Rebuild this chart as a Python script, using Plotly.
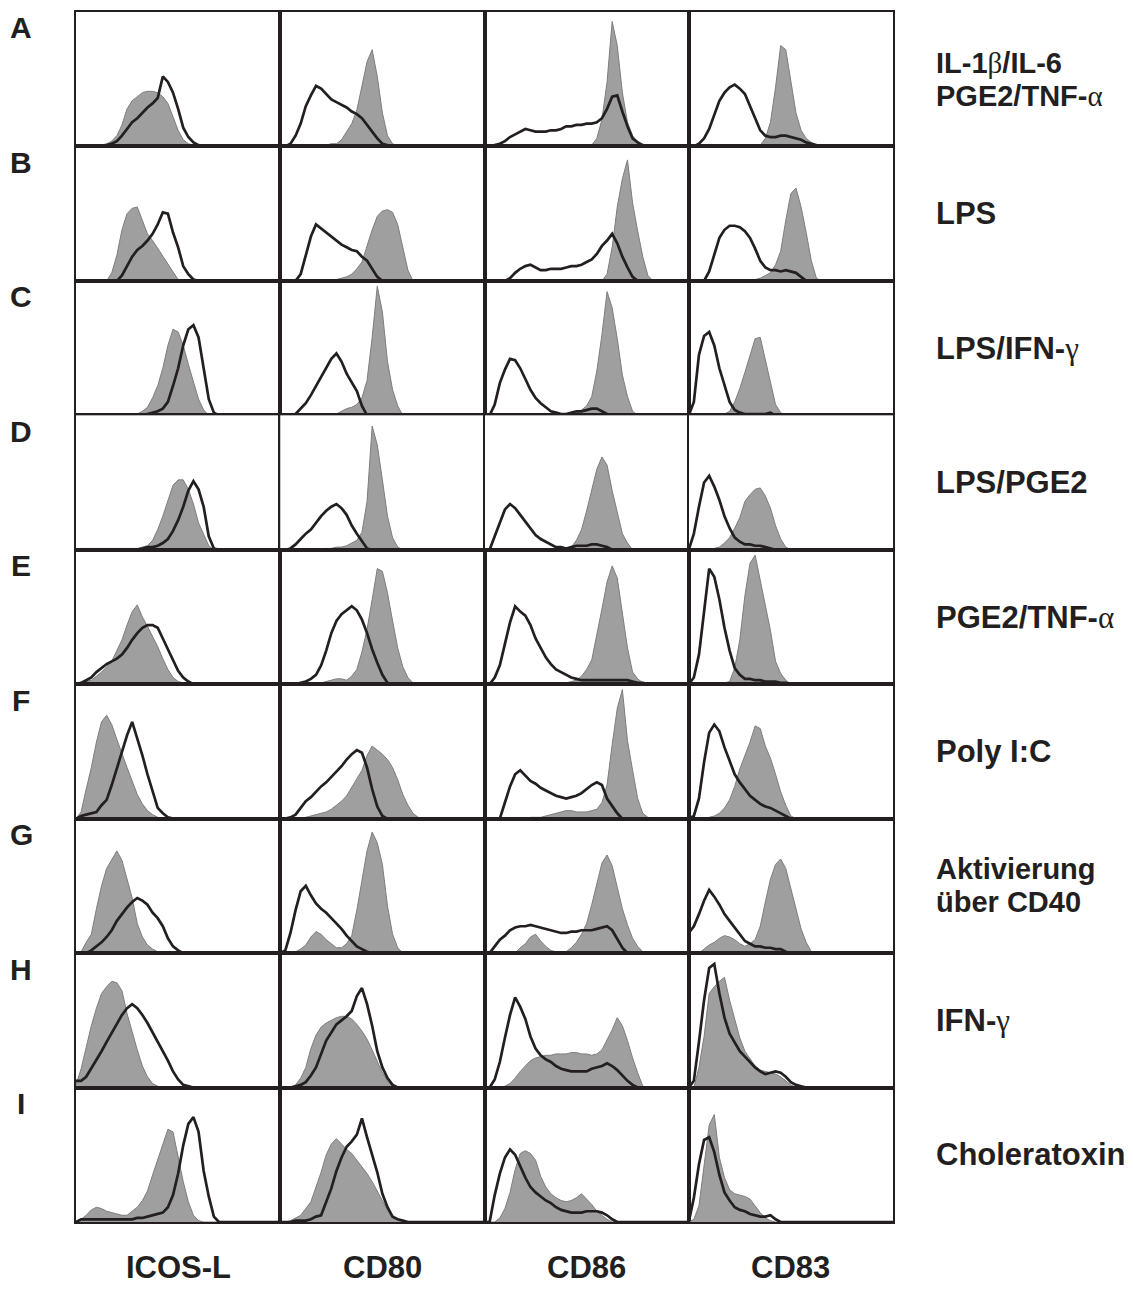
import plotly.graph_objects as go
from plotly.subplots import make_subplots

# ---------------- data (percent of max event count, per fluorescence channel) ----------------
CHANNELS = [0, 2.5, 5, 7.5, 10, 12.5, 15, 17.5, 20, 22.5, 25, 27.5, 30, 32.5, 35, 37.5, 40,
            42.5, 45, 47.5, 50, 52.5, 55, 57.5, 60, 62.5, 65, 67.5, 70, 72.5, 75, 77.5, 80,
            82.5, 85, 87.5, 90, 92.5, 95, 97.5, 100]

ROW_LETTERS = ["A", "B", "C", "D", "E", "F", "G", "H", "I"]
CONDITIONS = [["IL-1β/IL-6", "PGE2/TNF-α"], ["LPS"], ["LPS/IFN-γ"], ["LPS/PGE2"], ["PGE2/TNF-α"],
              ["Poly I:C"], ["Aktivierung", "über CD40"], ["IFN-γ"], ["Choleratoxin"]]
MARKERS = ["ICOS-L", "CD80", "CD86", "CD83"]

# shaded histograms (fill) and open histograms (line); trailing channels are zero
A1_fill = [0,0,0,0,1,1,2,4,8,16, 28,34,37,40,41,41,40,37,32,22, 12,5,2,1]
A1_line = [0,0,0,0,0,0,1,2,4,8, 13,18,21,25,29,32,36,52,48,40, 28,14,7,3,1]
A2_fill = [0,0,0,0,0,0,0,0,1,1, 2,2,5,11,17,27,44,63,72,52, 25,8,2]
A2_line = [0,0,2,8,17,30,38,45,43,39, 35,33,31,29,26,24,21,16,11,6, 2,1]
A3_fill = [0,0,1,1,1,1,1,1,1,1, 1,1,1,1,1,1,1,1,1,1, 1,1,6,20,48,93,75,40,18,8, 3,1]
A3_line = [0,0,1,2,4,7,9,11,13,12, 11,11,11,12,12,13,15,15,16,16, 17,17,18,21,28,37,38,26,15,6, 3,1]
A4_fill = [0,0,0,1,1,1,1,1,1,1, 1,1,1,1,1,6,18,44,75,72, 50,25,12,6,3,1]
A4_line = [0,0,2,6,13,23,34,40,44,46, 43,39,30,20,12,8,7,7,8,8, 7,6,5,3,2,1]

B1_fill = [0,0,0,0,0,0,0,6,19,38, 50,54,55,45,35,30,24,18,12,6, 1]
B1_line = [0,0,0,0,0,0,0,0,0,4, 11,18,23,26,30,35,42,51,50,36, 25,11,5,1]
B2_fill = [0,0,0,0,0,0,0,0,0,0, 0,1,2,3,5,9,14,27,38,48, 52,53,51,42,26,8]
B2_line = [0,0,0,0,5,18,33,42,39,36, 33,30,27,25,23,22,18,15,9,3]
B3_fill = [0,0,0,0,0,0,0,0,0,0, 0,0,0,0,0,0,0,0,0,0, 0,0,0,0,5,25,55,76,90,58, 37,18,4]
B3_line = [0,0,0,0,0,2,6,9,11,12, 10,8,8,9,9,9,10,11,11,12, 14,16,20,26,30,35,28,18,10,3]
B4_fill = [0,0,0,0,0,0,0,0,0,0, 0,0,0,1,2,4,6,12,22,45, 65,69,55,36,15,2]
B4_line = [0,0,0,0,7,19,32,38,41,41, 40,37,32,24,15,10,8,8,7,8, 7,6,3]

C1_fill = [0,0,0,0,0,0,0,0,0,0, 0,0,1,3,6,13,22,35,52,64, 62,52,38,24,12,4]
C1_line = [0,0,0,0,0,0,0,0,0,0, 0,0,0,0,1,2,3,5,10,22, 35,52,64,67,58,35,12,2]
C2_fill = [0,0,0,0,0,0,0,0,0,0, 0,1,3,5,6,8,13,26,58,96, 77,40,19,7]
C2_line = [0,0,0,1,5,9,15,22,29,35, 42,46,40,31,25,18,7]
C3_fill = [0,0,0,0,0,0,0,0,0,0, 0,0,0,0,0,0,0,1,2,4, 7,14,33,60,92,80,57,30,14,3]
C3_line = [0,0,8,24,34,42,41,35,27,19, 13,9,6,3,2,1,1,2,3,3, 4,5,5,3,1]
C4_fill = [0,0,0,0,0,0,0,1,3,10, 20,32,45,57,58,42,25,8,2]
C4_line = [0,10,45,59,62,52,35,22,10,4, 2,1,1,1,1,1,2]

D1_fill = [0,1,1,1,1,1,1,1,1,1, 1,1,1,2,3,7,15,25,37,48, 52,52,45,34,20,11,3]
D1_line = [0,0,0,0,0,0,0,0,0,0, 0,0,0,1,2,2,3,5,8,14, 22,32,44,51,45,32,10,1]
D2_fill = [0,0,0,0,0,0,0,0,0,1, 1,2,2,3,5,7,13,36,92,78, 52,25,9,2]
D2_line = [0,0,1,4,8,12,15,20,25,29, 32,34,31,26,18,12,6,1]
D3_fill = [0,0,0,0,0,0,0,0,0,0, 0,0,0,0,0,0,1,2,7,15, 29,45,60,69,63,44,27,12,5]
D3_line = [0,0,10,20,30,34,31,26,21,16, 11,8,6,4,2,2,1,2,3,3, 3,4,4,3,2]
D4_fill = [0,0,0,0,0,1,2,5,9,16, 24,36,41,45,46,40,31,18,8,2]
D4_line = [0,12,32,50,55,47,37,25,16,9, 6,4,4,3,3,2,1]

E1_fill = [0,1,2,3,6,9,13,17,25,33, 44,54,59,50,43,36,28,19,11,5, 2,1]
E1_line = [0,1,3,5,9,12,15,17,19,22, 27,33,38,42,44,44,42,34,26,18, 10,5,2]
E2_fill = [0,0,0,0,0,0,0,0,1,2, 3,4,4,3,6,11,24,41,63,86, 84,68,47,27,13,5,1]
E2_line = [0,0,0,0,1,2,4,7,14,25, 38,47,52,55,58,55,48,38,26,16, 7,1]
E3_fill = [0,0,0,0,0,0,0,0,0,0, 1,1,1,1,1,1,1,2,3,6, 11,18,36,56,76,88,79,53,27,9, 4,1]
E3_line = [0,0,5,14,30,46,58,54,51,44, 34,27,20,15,11,9,7,5,4,3, 3,3,3,3,3,3,3,3,3,2, 1,1]
E4_fill = [0,0,0,0,0,0,0,1,2,12, 33,66,90,96,78,58,40,17,8,3]
E4_line = [0,5,22,55,86,80,63,42,25,12, 7,4,4,3,3,2,2,2,1,1]

F1_fill = [0,5,22,38,57,72,77,70,59,48, 38,28,18,11,6,3,1]
F1_line = [0,2,3,4,5,10,14,25,38,50, 62,72,60,47,33,20,8,4,1]
F2_fill = [0,0,0,0,0,1,2,3,4,5, 7,10,13,17,23,29,36,47,54,51, 48,44,38,29,18,10,4,1]
F2_line = [0,0,1,3,8,13,16,20,24,27, 31,35,39,44,48,51,49,38,22,9, 2]
F3_fill = [0,0,0,0,0,0,0,0,0,1, 1,1,2,3,4,5,6,6,5,5, 5,6,7,12,25,55,82,96,58,36, 15,4,1]
F3_line = [0,0,0,0,12,24,33,36,32,28, 26,23,21,19,17,16,15,16,17,19, 22,25,27,25,15,9,4]
F4_fill = [0,0,0,0,1,2,4,8,14,24, 37,47,57,69,67,54,45,33,20,10, 2]
F4_line = [0,2,15,42,64,70,65,53,43,33, 27,22,17,14,11,9,8,6,4,2]

G1_fill = [0,1,8,14,33,50,63,70,76,69, 55,41,22,12,6,3,1]
G1_line = [0,0,0,2,5,8,12,17,24,29, 34,38,41,39,36,30,26,20,11,5, 2]
G2_fill = [0,0,0,1,3,6,12,16,14,10, 7,4,4,7,13,32,54,76,90,82, 66,35,14,4]
G2_line = [0,2,15,32,46,50,43,37,33,30, 26,22,18,13,9,5,3,1]
G3_fill = [0,0,0,0,0,0,0,4,7,12, 14,9,5,2,1,1,1,4,8,14, 22,36,51,67,73,65,49,33,21,11, 5,1]
G3_line = [0,0,5,10,13,17,19,20,20,21, 20,19,18,17,16,15,15,16,16,17, 17,17,18,19,20,17,11,4]
G4_fill = [0,0,0,3,6,8,11,13,12,10, 7,5,7,10,20,38,55,66,70,63, 48,31,18,8,1]
G4_line = [15,20,29,39,47,42,36,29,24,19, 14,9,7,5,5,4,4,3,3,1]

H1_fill = [2,14,30,46,59,70,75,79,78,72, 55,41,28,16,8,3,1]
H1_line = [5,5,8,14,20,27,34,41,48,54, 59,62,59,54,48,41,35,27,20,12, 6,2,1]
H2_fill = [0,0,0,2,7,15,29,39,45,48, 50,52,53,53,51,47,42,36,28,19, 11,5,1]
H2_line = [0,0,0,1,2,4,9,15,25,35, 41,47,50,53,57,68,74,62,46,27, 15,7,2]
H3_fill = [0,0,0,0,1,3,7,12,16,20, 22,23,24,24,25,25,25,26,26,25, 25,24,25,28,35,43,52,46,35,22, 11,1]
H3_line = [0,0,6,19,37,54,67,60,51,38, 29,24,21,19,16,14,13,12,12,12, 12,14,15,16,18,16,13,9,5,2]
H4_fill = [0,0,15,38,70,75,79,82,65,50, 37,27,21,16,13,12,11,10,8,5, 2]
H4_line = [0,5,34,65,89,92,70,52,40,33, 27,23,19,15,12,10,11,12,11,8, 4,2,1]

I1_fill = [0,2,5,9,11,10,8,7,6,5, 5,8,11,16,23,35,46,57,69,67, 49,30,15,5,1]
I1_line = [0,2,2,2,2,2,2,2,2,2, 2,2,3,3,4,5,6,7,11,20, 36,57,73,78,67,38,19,4]
I2_fill = [0,0,1,3,5,10,15,26,37,50, 58,62,58,54,51,46,41,36,30,23, 15,9,4,2,1]
I2_line = [0,0,0,1,1,1,2,4,5,15, 25,38,48,56,60,65,77,63,50,37, 21,11,4,2,1]
I3_fill = [0,0,0,3,10,22,39,51,53,51, 46,34,26,21,18,16,15,16,18,21, 17,13,8,5,2]
I3_line = [0,0,20,36,48,54,50,41,33,26, 22,19,16,14,11,9,8,7,7,7, 8,8,8,7,5,2]
I4_fill = [0,2,12,43,72,80,48,33,24,21, 20,19,17,12,7,3,1]
I4_line = [0,18,43,61,63,52,35,22,16,11, 9,8,6,5,4,4,5,2]

FILLS = [[A1_fill, A2_fill, A3_fill, A4_fill], [B1_fill, B2_fill, B3_fill, B4_fill],
         [C1_fill, C2_fill, C3_fill, C4_fill], [D1_fill, D2_fill, D3_fill, D4_fill],
         [E1_fill, E2_fill, E3_fill, E4_fill], [F1_fill, F2_fill, F3_fill, F4_fill],
         [G1_fill, G2_fill, G3_fill, G4_fill], [H1_fill, H2_fill, H3_fill, H4_fill],
         [I1_fill, I2_fill, I3_fill, I4_fill]]
LINES = [[A1_line, A2_line, A3_line, A4_line], [B1_line, B2_line, B3_line, B4_line],
         [C1_line, C2_line, C3_line, C4_line], [D1_line, D2_line, D3_line, D4_line],
         [E1_line, E2_line, E3_line, E4_line], [F1_line, F2_line, F3_line, F4_line],
         [G1_line, G2_line, G3_line, G4_line], [H1_line, H2_line, H3_line, H4_line],
         [I1_line, I2_line, I3_line, I4_line]]

# ---------------- layout ----------------
OFF = 8                      # page body margin
W, H = 1125, 1286
ML, MR, MT, MB = 68, 240, 2, 72
PW, PH = W - ML - MR, H - MT - MB

INK = "#231f20"
GREY = "#9f9f9f"
GREY_EDGE = "#7d7d7d"
FONT = "Liberation Sans, Arial, sans-serif"
SERIF = "Liberation Serif, Times New Roman, serif"


def px(xr):
    return (xr - OFF - ML) / PW


def py(yr):
    return 1 - (yr - OFF - MT) / PH


def pad(vals):
    return list(vals) + [0] * (len(CHANNELS) - len(vals))


def greek(s):
    for g in "βαγ":
        s = s.replace(g, f"<span style='font-family:{SERIF};font-weight:normal'>{g}</span>")
    return s


nrows, ncols = len(ROW_LETTERS), len(MARKERS)
fig = make_subplots(rows=nrows, cols=ncols, horizontal_spacing=0, vertical_spacing=0)

for r in range(nrows):
    for c in range(ncols):
        fig.add_trace(go.Scatter(x=CHANNELS, y=pad(FILLS[r][c]), mode="lines",
                                 fill="tozeroy", fillcolor=GREY,
                                 line=dict(color=GREY_EDGE, width=1),
                                 hoverinfo="skip", showlegend=False),
                      row=r + 1, col=c + 1)
        fig.add_trace(go.Scatter(x=CHANNELS, y=pad(LINES[r][c]), mode="lines",
                                 line=dict(color=INK, width=2.7),
                                 hoverinfo="skip", showlegend=False),
                      row=r + 1, col=c + 1)

fig.update_xaxes(range=[0, 100], showticklabels=False, ticks="", showgrid=False,
                 zeroline=False, showline=True, mirror=True, linecolor=INK, linewidth=2.4)
fig.update_yaxes(range=[0, 100], showticklabels=False, ticks="", showgrid=False,
                 zeroline=False, showline=True, mirror=True, linecolor=INK, linewidth=2.4)

ann = []
GRID_TOP, GRID_BOT, GRID_L, GRID_R = 10, 1222, 76, 893
row_h = (GRID_BOT - GRID_TOP) / nrows
col_w = (GRID_R - GRID_L) / ncols
FS = 31
FS2 = 29        # two-line condition labels
GAP2 = 33       # line spacing of two-line labels

for r, letter in enumerate(ROW_LETTERS):
    top = GRID_TOP + r * row_h
    ann.append(dict(text=f"<b>{letter}</b>", x=px(21), y=py(top + 16), xref="paper", yref="paper",
                    xanchor="center", yanchor="middle", showarrow=False,
                    font=dict(family=FONT, size=30, color=INK)))
    lines = CONDITIONS[r]
    mid = top + row_h / 2
    n = len(lines)
    size = FS if n == 1 else FS2
    for k, t in enumerate(lines):
        yc = mid + (k - (n - 1) / 2) * GAP2
        ann.append(dict(text=f"<b>{greek(t)}</b>", x=px(934), y=py(yc), xref="paper", yref="paper",
                        xanchor="left", yanchor="middle", showarrow=False,
                        font=dict(family=FONT, size=size, color=INK)))

for c, m in enumerate(MARKERS):
    xc = GRID_L + (c + 0.5) * col_w
    ann.append(dict(text=f"<b>{m}</b>", x=px(xc), y=py(1268), xref="paper", yref="paper",
                    xanchor="center", yanchor="middle", showarrow=False,
                    font=dict(family=FONT, size=FS, color=INK)))

fig.update_layout(width=W, height=H, margin=dict(l=ML, r=MR, t=MT, b=MB),
                  paper_bgcolor="white", plot_bgcolor="white", annotations=ann,
                  showlegend=False)

fig.write_html("out.html")
